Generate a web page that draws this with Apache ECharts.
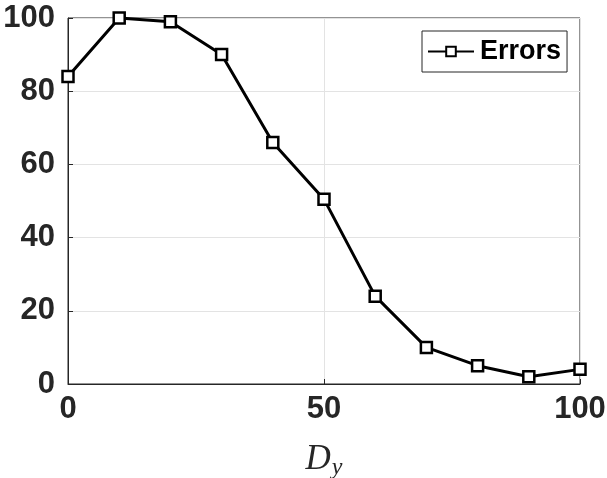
<!DOCTYPE html>
<html><head><meta charset="utf-8">
<script src="https://cdn.jsdelivr.net/npm/echarts@6/dist/echarts.min.js"></script>
<style>html,body{margin:0;padding:0;background:#fff;}#c{width:607px;height:478px;}</style>
</head><body><div id="c"></div>
<script>
const xValues = [0, 10, 20, 30, 40, 50, 60, 70, 80, 90, 100];
const errors = [84, 100, 99, 90, 66, 50.5, 24, 10, 5, 2, 4];
const seriesName = 'Errors';

const chart = echarts.init(document.getElementById('c'), null, {renderer: 'canvas'});
const axisColor = '#262626';
const labelFont = 'Liberation Sans, Arial, sans-serif';
chart.setOption({
  animation: false,
  backgroundColor: '#fff',
  grid: {left: 68, right: 27, top: 18, bottom: 94, show: true, borderColor: axisColor, borderWidth: 1, backgroundColor: 'transparent', containLabel: false, outerBoundsMode: 'none'},
  legend: {
    show: true, left: 422, top: 31, orient: 'horizontal',
    padding: [7, 6, 7, 5], borderColor: axisColor, borderWidth: 1, borderRadius: 0,
    backgroundColor: '#fff', itemWidth: 46, itemHeight: 12, itemGap: 4,
    textStyle: {fontFamily: labelFont, fontWeight: 'bold', fontSize: 27, color: '#000', padding: [0, 0, 0, 1]},
    data: [seriesName]
  },
  xAxis: {
    type: 'value', min: 0, max: 100, interval: 50,
    name: '{d|D}{s|y}', nameLocation: 'middle', nameGap: 56,
    nameTextStyle: {rich: {
      d: {fontFamily: 'Liberation Serif, serif', fontStyle: 'italic', fontSize: 35, color: '#262626'},
      s: {fontFamily: 'Liberation Serif, serif', fontStyle: 'italic', fontSize: 24, color: '#262626', padding: [16, 0, 0, 1]}
    }},
    axisLine: {show: true, lineStyle: {color: axisColor, width: 1}},
    axisTick: {show: true, inside: true, length: 5, lineStyle: {color: axisColor}},
    axisLabel: {fontFamily: labelFont, fontWeight: 'bold', fontSize: 31, color: '#262626', margin: 10},
    splitLine: {show: true, lineStyle: {color: '#e3e3e3', width: 1}}
  },
  yAxis: {
    type: 'value', min: 0, max: 100, interval: 20,
    axisLine: {show: true, lineStyle: {color: axisColor, width: 1}},
    axisTick: {show: true, inside: true, length: 5, lineStyle: {color: axisColor}},
    axisLabel: {fontFamily: labelFont, fontWeight: 'bold', fontSize: 31, color: '#262626', margin: 13},
    splitLine: {show: true, lineStyle: {color: '#e3e3e3', width: 1}}
  },
  series: [{
    name: seriesName, type: 'line',
    data: xValues.map((x, i) => [x, errors[i]]),
    symbol: 'rect', symbolSize: 11,
    lineStyle: {color: '#000', width: 3},
    itemStyle: {color: '#fff', borderColor: '#000', borderWidth: 2.5},
    color: '#000',
    z: 5
  }]
});
</script></body></html>
